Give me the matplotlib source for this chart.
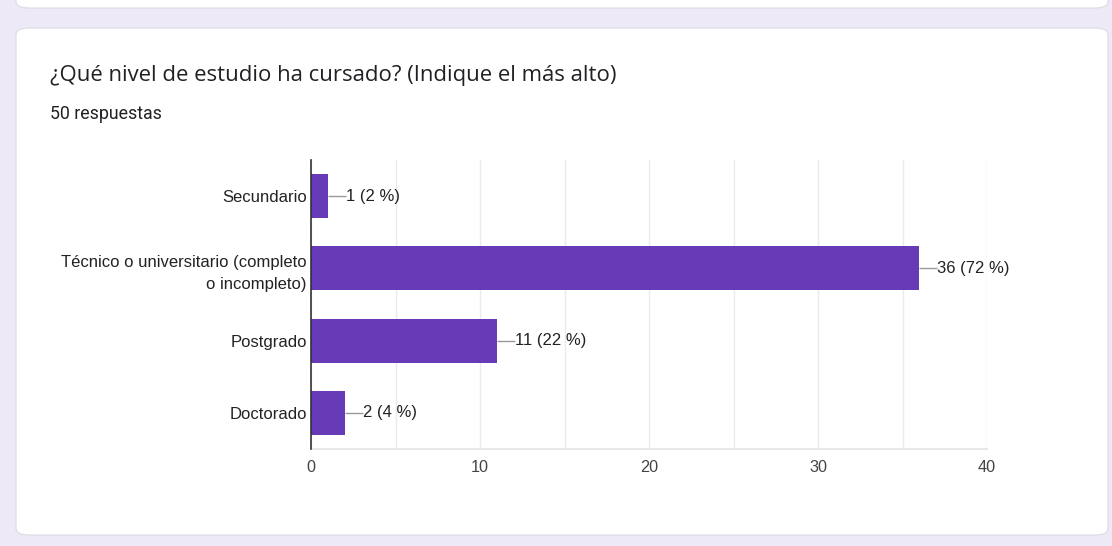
import matplotlib
matplotlib.use("Agg")
import matplotlib.pyplot as plt
from matplotlib.patches import FancyBboxPatch

# Survey answers
categories = ["Secundario", "Técnico o universitario (completo\no incompleto)", "Postgrado", "Doctorado"]
counts = [1, 36, 11, 2]
percents = [2, 72, 22, 4]
x_ticks = [0, 10, 20, 30, 40]

title = "¿Qué nivel de estudio ha cursado? (Indique el más alto)"
subtitle = "50 respuestas"

W, H = 1112, 546
DPI = 100
fig = plt.figure(figsize=(W / DPI, H / DPI), dpi=DPI)
fig.patch.set_facecolor("#ede9f6")

def px_rect(x0, y0, x1, y1):
    """Pixel box (top-left origin) -> figure fraction (left, bottom, w, h)."""
    return x0 / W, 1 - y1 / H, (x1 - x0) / W, (y1 - y0) / H

# Cards
for (x0, y0, x1, y1) in [(16, -40, 1108, 8), (16, 28, 1108, 535)]:
    l, b, w, h = px_rect(x0, y0, x1, y1)
    card = FancyBboxPatch((l, b), w, h, boxstyle="round,pad=0,rounding_size=0.012",
                          transform=fig.transFigure, facecolor="white",
                          edgecolor="#dcdae3", linewidth=0.8, zorder=0)
    fig.patches.append(card)

fig.text(50 / W, 1 - 76 / H, title, fontsize=15.9, family="Open Sans",
         color="#202124", va="center", ha="left")
fig.text(50 / W, 1 - 114 / H, subtitle, fontsize=12.8, family="Roboto",
         color="#202124", va="center", ha="left")

ax_left, ax_right = 311, 987
ax = fig.add_axes(px_rect(ax_left, 160, ax_right, 449))
ax.set_zorder(2)
ax.set_facecolor("none")
ypos = list(range(len(categories)))
bar_color = "#673ab7"
ax.barh(ypos, counts, height=0.61, color=bar_color, zorder=3)

ax.set_xlim(0, 40)
ax.set_ylim(len(categories) - 0.5, -0.5)
ax.set_xticks(x_ticks)
ax.set_xticks(range(0, 41, 5), minor=True)
ax.set_xticklabels([str(t) for t in x_ticks], fontsize=11.7, family="Liberation Sans", color="#444444")
ax.set_yticks(ypos)
ax.set_yticklabels(categories, fontsize=12, family="Liberation Sans", color="#222222",
                   ha="right", linespacing=1.62)
ax.tick_params(axis="both", which="both", length=0)
ax.tick_params(axis="y", pad=3)
ax.tick_params(axis="x", pad=8)
ax.grid(axis="x", which="both", color="#ebebeb", linewidth=1, zorder=0)

for s in ["top", "right"]:
    ax.spines[s].set_visible(False)
ax.spines["left"].set_color("#333333")
ax.spines["left"].set_linewidth(1.2)
ax.spines["left"].set_zorder(4)
ax.spines["bottom"].set_color("#e8e8e8")
ax.spines["bottom"].set_linewidth(1.5)

# leader line length: 18 px expressed in x data units
lead = 18 * (40 - 0) / (ax_right - ax_left)
for y, c, p in zip(ypos, counts, percents):
    ax.plot([c, c + lead], [y, y], color="#999999", lw=1, zorder=3, solid_capstyle="butt")
    ax.text(c + lead, y, f"{c} ({p} %)", va="center", ha="left", fontsize=12,
            family="Liberation Sans", color="#222222")

fig.savefig("out.png", dpi=DPI, facecolor=fig.get_facecolor())
